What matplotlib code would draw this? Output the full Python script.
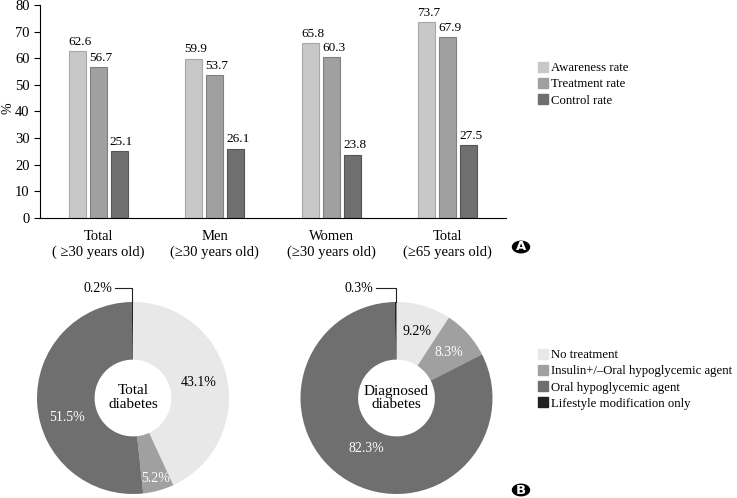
import numpy as np
import matplotlib.pyplot as plt
from matplotlib.patches import Circle, Patch

plt.rcParams['font.family'] = ['Liberation Serif', 'DejaVu Serif']
plt.rcParams['font.size'] = 10

# panel A data
groups = ['Total\n( \u226530 years old)', 'Men\n(\u226530 years old)',
          'Women\n(\u226530 years old)', 'Total\n(\u226565 years old)']
rate_names = ['Awareness rate', 'Treatment rate', 'Control rate']
awareness = [62.6, 59.9, 65.8, 73.7]
treatment = [56.7, 53.7, 60.3, 67.9]
control = [25.1, 26.1, 23.8, 27.5]
bar_colors = ['#c8c8c8', '#a0a0a0', '#6f6f6f']
bar_edges = ['#a8a8a8', '#808080', '#555555']

# panel B data
treat_names = ['No treatment', 'Insulin+/\u2013Oral hypoglycemic agent',
               'Oral hypoglycemic agent', 'Lifestyle modification only']
total_diab = [43.1, 5.2, 51.5, 0.2]
diag_diab = [9.2, 8.3, 82.3, 0.3]
pie_colors = ['#e8e8e8', '#a0a0a0', '#6f6f6f', '#231f20']

W, H = 737, 498
fig = plt.figure(figsize=(W / 100, H / 100), dpi=100)

# ---- panel A ----
ax = fig.add_axes([40 / W, 1 - 218 / H, 466 / W, 213 / H])
x = np.arange(len(groups))
width = 0.148
offs = [-0.18, 0, 0.18]
for series, off, c, ec in zip([awareness, treatment, control], offs, bar_colors, bar_edges):
    bars = ax.bar(x + off, series, width, color=c, edgecolor=ec, linewidth=0.8)
    for b, v in zip(bars, series):
        ax.text(b.get_x() + b.get_width() / 2 + 0.02, v + 1.2, '%.1f' % v,
                ha='center', va='bottom', fontsize=9.5)
ax.set_xlim(-0.5, 3.5)
ax.set_ylim(0, 80)
ax.set_yticks(range(0, 81, 10))
ax.set_xticks(x)
ax.set_xticklabels(groups, fontsize=10.5, linespacing=1.2)
ax.tick_params(axis='x', length=0, pad=9)
ax.tick_params(axis='y', length=4, width=0.8, labelsize=10.5)
ax.spines['top'].set_visible(False)
ax.spines['right'].set_visible(False)
fig.text(8 / W, 1 - 108 / H, '%', rotation=90, ha='center', va='center', fontsize=10)

leg_kw = dict(loc='upper left', frameon=False, fontsize=9.2, handlelength=0.8,
              handleheight=0.8, handletextpad=0.25, labelspacing=0.3,
              borderpad=0, borderaxespad=0)
fig.legend([Patch(color=c) for c in bar_colors], rate_names,
           bbox_to_anchor=(538 / W, 1 - 62 / H), **leg_kw)

# ---- panel B ----
R = 96.0
half = 125.0


def draw_pie(cx, cy, vals, center_text, lbl_pos, lbl_col, small_x):
    a = fig.add_axes([(cx - half) / W, 1 - (cy + half) / H, 2 * half / W, 2 * half / H])
    a.pie(vals, colors=pie_colors, startangle=90, counterclock=False,
          wedgeprops=dict(width=0.6, linewidth=0))
    a.set_xlim(-half / R, half / R)
    a.set_ylim(-half / R, half / R)
    a.set_aspect('equal')
    a.axis('off')
    a.text(0, 0, center_text, ha='center', va='center', fontsize=11, linespacing=1.1)
    for v, (px, py), col in zip(vals[:3], lbl_pos, lbl_col):
        a.text(px, py, '%.1f%%' % v, ha='center', va='center', fontsize=10, color=col)
    # leader for the tiny lifestyle wedge
    ang = np.deg2rad(90 + vals[3] / sum(vals) * 180)
    lx = np.cos(ang)
    ty = 110 / R
    a.plot([small_x + 0.03, lx, lx], [ty, ty, 1.0], color='#222222', lw=0.8)
    a.text(small_x, ty, '%.1f%%' % vals[3], ha='right', va='center', fontsize=10)
    return a


draw_pie(133, 398, total_diab, 'Total\ndiabetes',
         [(0.68, 0.16), (0.23, -0.84), (-0.69, -0.2)], ['black', 'white', 'white'],
         -0.22)
draw_pie(396.5, 398, diag_diab, 'Diagnosed\ndiabetes',
         [(0.21, 0.69), (0.55, 0.47), (-0.31, -0.53)], ['black', 'white', 'white'],
         -0.24)

fig.legend([Patch(color=c) for c in pie_colors], treat_names,
           bbox_to_anchor=(538 / W, 1 - 349 / H), **leg_kw)

# panel markers
for lab, yy in [('A', 247), ('B', 490)]:
    fig.patches.append(Circle((521 / W, 1 - yy / H), 8.5 / W, transform=fig.transFigure,
                              color='black'))
    fig.text(521 / W, 1 - yy / H, lab, ha='center', va='center', color='white',
             fontsize=9.5, fontweight='bold', family='DejaVu Sans')

fig.savefig('out.png', dpi=100)
